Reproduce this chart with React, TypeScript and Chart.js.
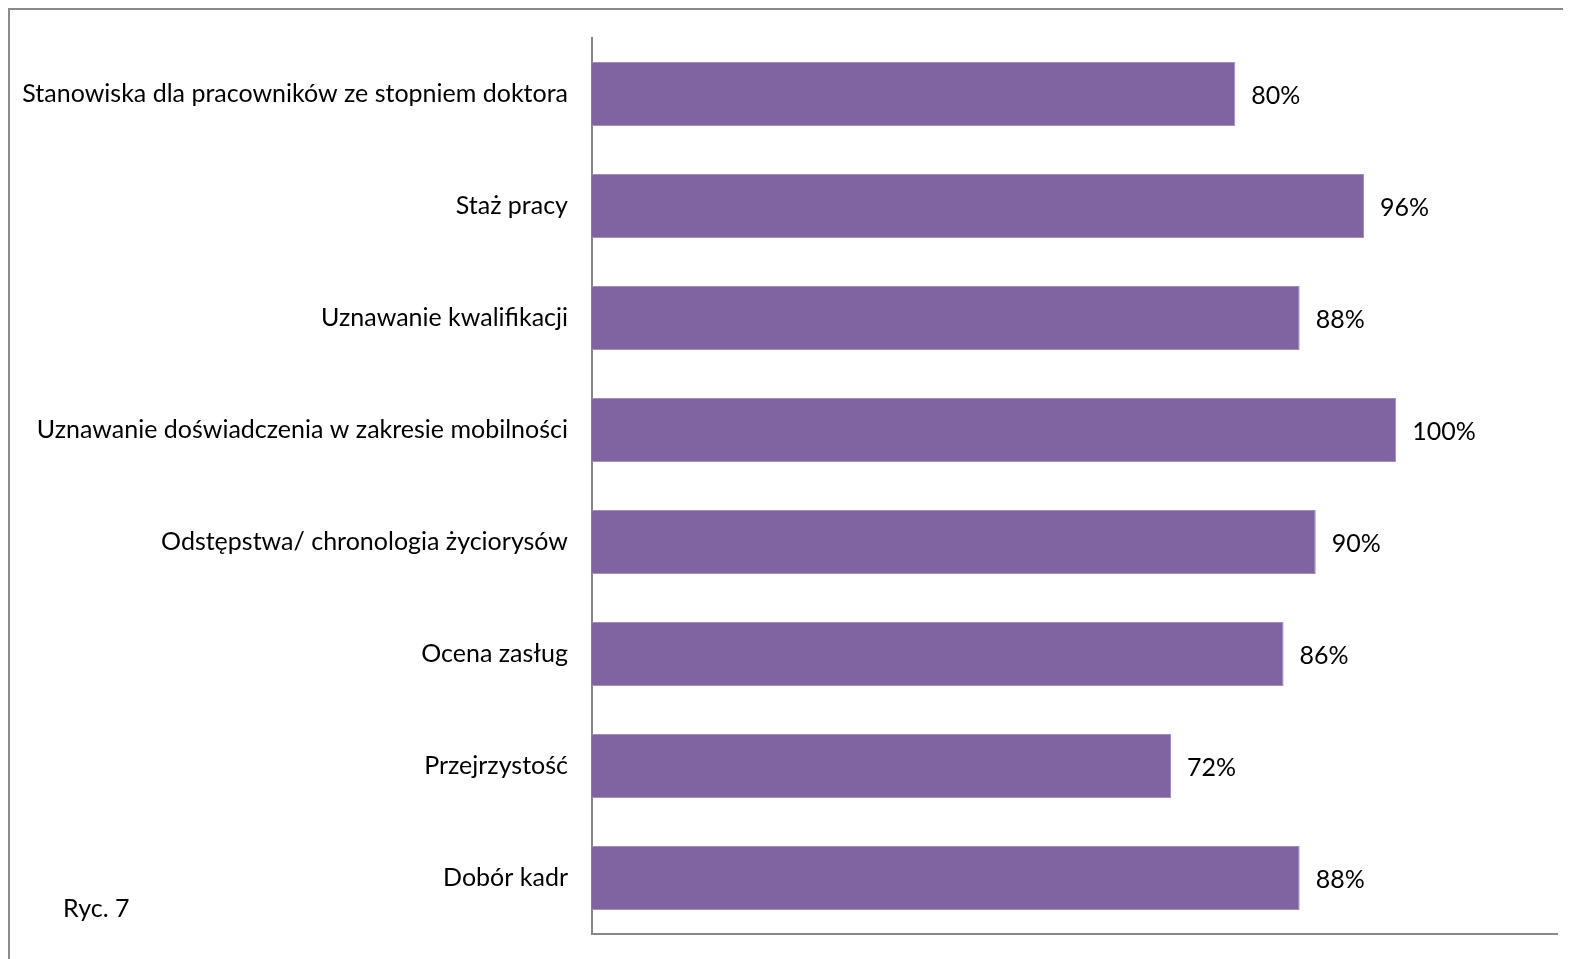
import React, { useEffect, useRef } from "react";
import { Chart, registerables } from "chart.js";

Chart.register(...registerables);

const categories = [
  "Stanowiska dla pracowników ze stopniem doktora",
  "Staż pracy",
  "Uznawanie kwalifikacji",
  "Uznawanie doświadczenia w zakresie mobilności",
  "Odstępstwa/ chronologia życiorysów",
  "Ocena zasług",
  "Przejrzystość",
  "Dobór kadr",
];
const values = [80, 96, 88, 100, 90, 86, 72, 88];
const axisMax = 120;
const caption = "Ryc. 7";

const FONT = "Lato, 'Open Sans', sans-serif";
const FONT_SIZE = 25;

const labelPlugin = {
  id: "barValueLabels",
  afterDatasetsDraw(chart: any) {
    const ctx = chart.ctx;
    const meta = chart.getDatasetMeta(0);
    ctx.save();
    ctx.fillStyle = "#000000";
    ctx.font = `${FONT_SIZE}px ${FONT}`;
    ctx.textAlign = "left";
    ctx.textBaseline = "middle";
    meta.data.forEach((bar: any, i: number) => {
      ctx.fillText(values[i] + "%", bar.x + 16, bar.y + 2);
    });
    ctx.restore();
  },
};

export default function App() {
  const ref = useRef<HTMLCanvasElement | null>(null);
  useEffect(() => {
    if (!ref.current) return;
    const chart = new Chart(ref.current, {
      type: "bar",
      data: {
        labels: categories,
        datasets: [
          {
            data: values,
            backgroundColor: "#8064A2",
            borderColor: "#A58CC4",
            borderWidth: 1,
            barPercentage: 0.57,
            categoryPercentage: 1,
          },
        ],
      },
      options: {
        indexAxis: "y",
        animation: false,
        responsive: false,
        maintainAspectRatio: false,
        layout: { padding: { left: 0, right: 14, top: 28, bottom: 25 } },
        plugins: { legend: { display: false }, tooltip: { enabled: false } },
        scales: {
          x: {
            min: 0,
            max: axisMax,
            grid: { display: false, drawTicks: false },
            border: { display: true, color: "#878787", width: 2 },
            ticks: { display: false },
            afterFit(scale: any) {
              scale.height = 0;
              scale.paddingLeft = 0;
              scale.paddingRight = 0;
            },
          },
          y: {
            grid: { display: false, drawTicks: false },
            border: { display: true, color: "#878787", width: 2 },
            ticks: {
              color: "#000000",
              padding: 24,
              font: { family: FONT, size: FONT_SIZE },
            },
            afterFit(scale: any) {
              scale.width = 582;
              scale.paddingTop = 0;
              scale.paddingBottom = 0;
            },
          },
        },
      },
      plugins: [labelPlugin],
    });
    return () => chart.destroy();
  }, []);
  return (
    <div
      style={{
        position: "relative",
        width: 1563,
        height: 951,
        borderTop: "2px solid #8a8a8a",
        borderLeft: "2px solid #8a8a8a",
        boxSizing: "border-box",
        background: "#fff",
      }}
    >
      <canvas ref={ref} width={1561} height={949} style={{ display: "block" }} />
      <div
        style={{
          position: "absolute",
          left: 53,
          top: 882,
          fontFamily: FONT,
          fontSize: FONT_SIZE,
          color: "#000",
        }}
      >
        {caption}
      </div>
    </div>
  );
}
